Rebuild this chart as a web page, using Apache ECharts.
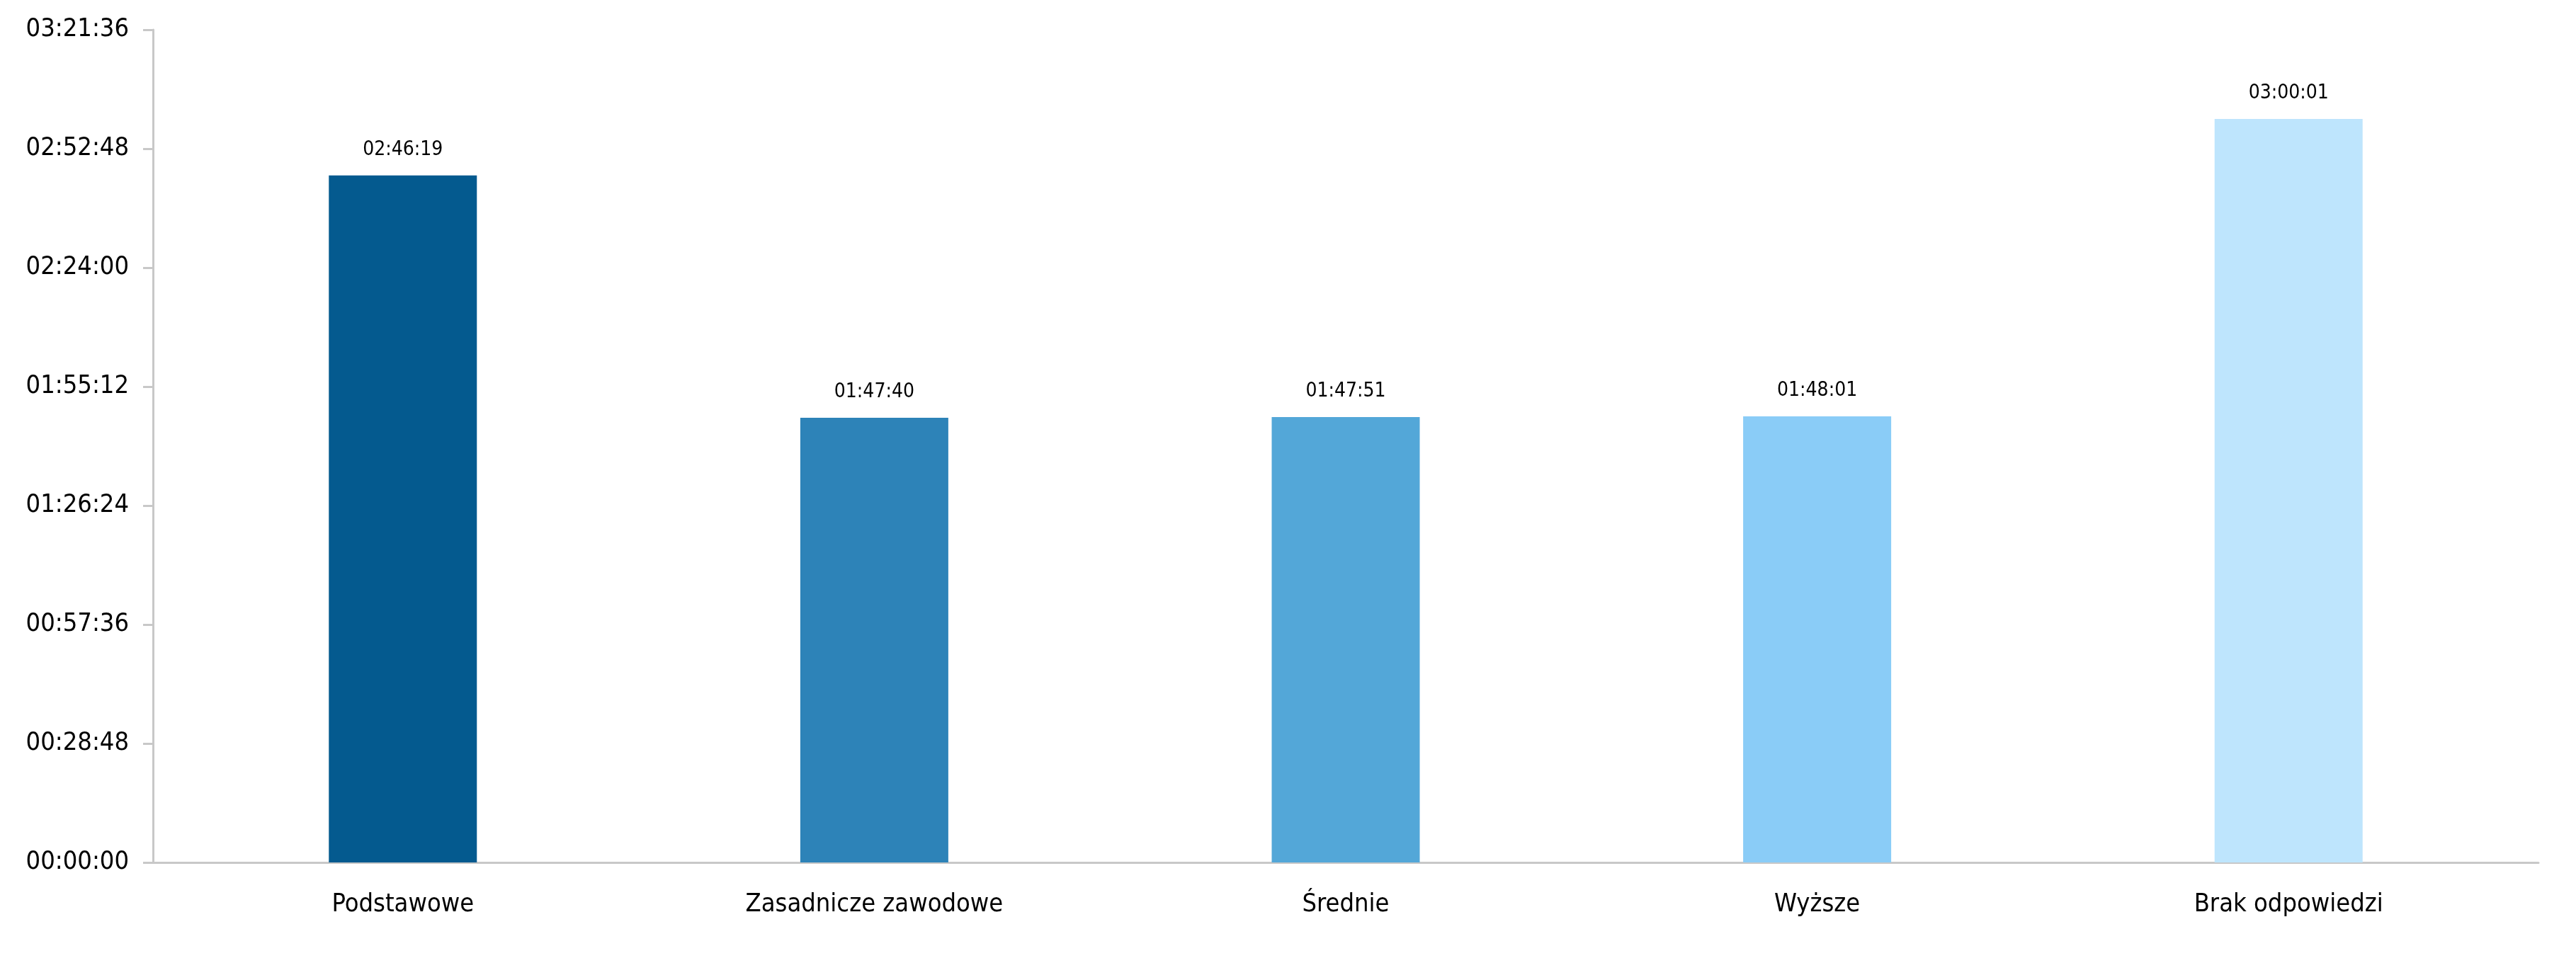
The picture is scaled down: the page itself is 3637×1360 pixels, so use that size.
<!DOCTYPE html>
<html>
<head>
<meta charset="utf-8">
<script src="https://cdn.jsdelivr.net/npm/echarts@6/dist/echarts.min.js"></script>
<style>
html,body{margin:0;padding:0;background:#fff;}
#c{width:3637px;height:1360px;}
</style>
</head>
<body>
<div id="c"></div>
<script>
const categories = ["Podstawowe", "Zasadnicze zawodowe", "Średnie", "Wyższe", "Brak odpowiedzi"];
// durations in seconds (02:46:19, 01:47:40, 01:47:51, 01:48:01, 03:00:01)
const values = [9979, 6460, 6471, 6481, 10801];
const barColors = ["#045A8F", "#2D83B8", "#53A7D8", "#8ACCF7", "#BEE5FD"];
const axisMax = 12096;      // 03:21:36
const axisInterval = 1728;  // 00:28:48

function fmt(s){
  const h = Math.floor(s/3600), m = Math.floor((s%3600)/60), sec = Math.round(s%60);
  const p = n => String(n).padStart(2,'0');
  return p(h)+':'+p(m)+':'+p(sec);
}

const catIdx = categories.map((c,i)=>i);
const FONT = '"Liberation Sans Narrow", "DejaVu Sans Condensed", "Open Sans", sans-serif';
const chart = echarts.init(document.getElementById('c'), null, {renderer:'canvas'});
chart.setOption({
  animation:false,
  backgroundColor:'#ffffff',
  grid:{left:216, right:53, top:42, bottom:142, containLabel:false},
  xAxis:{
    type:'value',
    min:-0.53, max:categories.length - 0.47,
    axisLine:{show:true, onZero:false, lineStyle:{color:'#C8C8C8', width:3}},
    axisTick:{show:false},
    splitLine:{show:false},
    axisLabel:{color:'#000', fontSize:36, fontFamily:FONT, margin:42,
      customValues:catIdx, showMinLabel:true, showMaxLabel:true, hideOverlap:false,
      formatter:v=>categories[Math.round(v)] || ''}
  },
  yAxis:{
    type:'value',
    min:0, max:axisMax, interval:axisInterval,
    axisLine:{show:true, onZero:false, lineStyle:{color:'#C8C8C8', width:3}},
    axisTick:{show:true, length:14, lineStyle:{color:'#C8C8C8', width:3}},
    splitLine:{show:false},
    axisLabel:{color:'#000', fontSize:36, fontFamily:FONT, margin:34, formatter:v=>fmt(v)}
  },
  series:[{
    type:'bar',
    data:values.map((v,i)=>({value:[catIdx[i], v], itemStyle:{color:barColors[i]}})),
    barWidth:209,
    label:{show:true, position:'top', distance:22, color:'#000', fontSize:28, fontFamily:FONT, formatter:p=>fmt(p.value[1])}
  }]
});
</script>
</body>
</html>
